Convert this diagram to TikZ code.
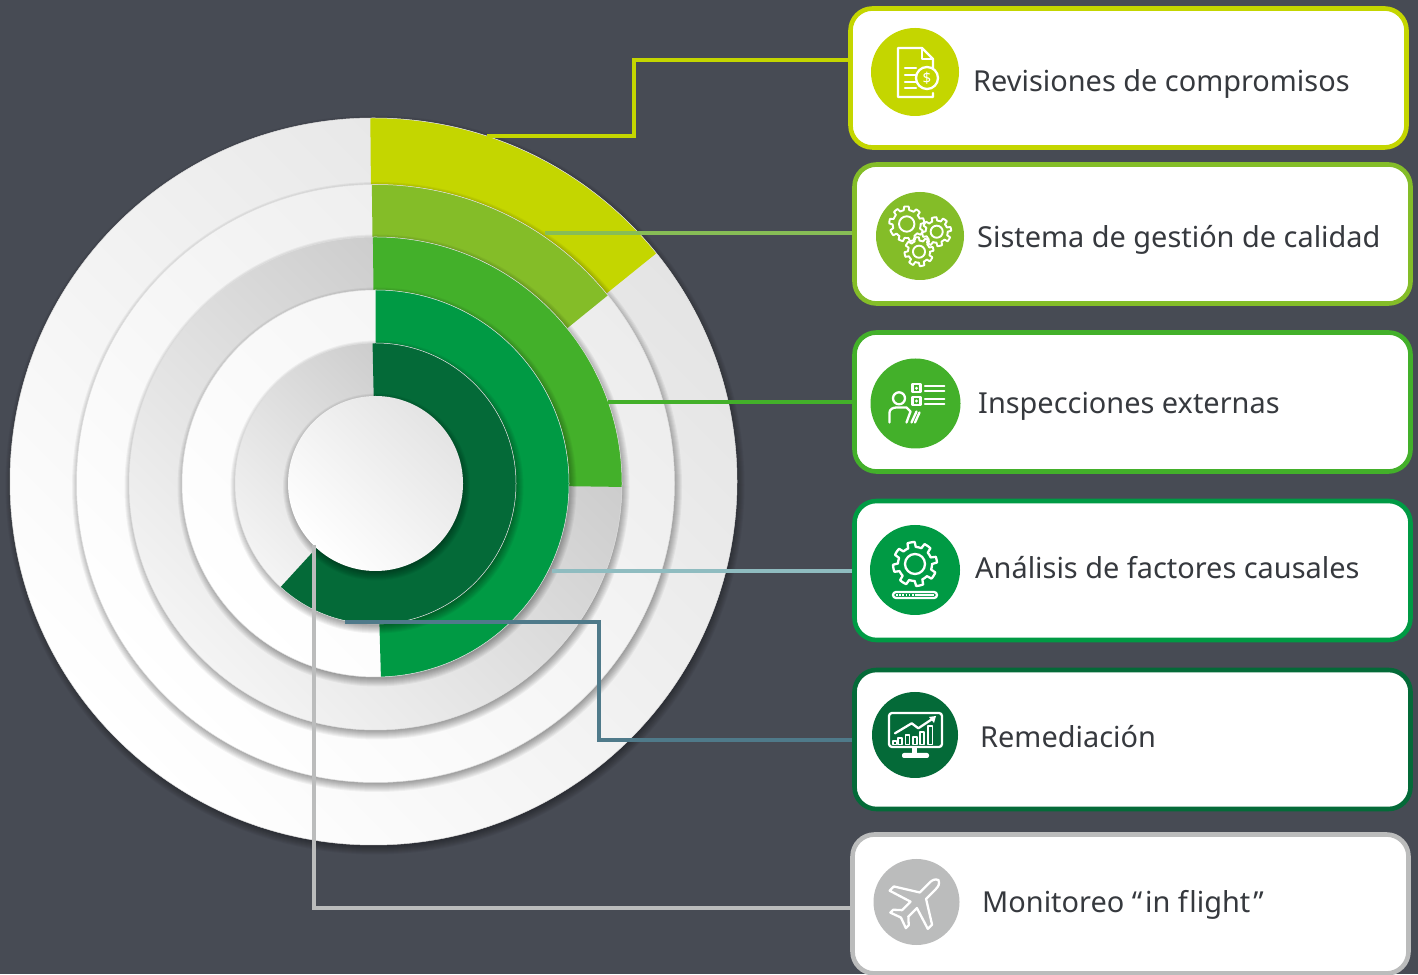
\documentclass[tikz,border=0pt]{standalone}
\usepackage{fontspec}
\setmainfont{Noto Sans}
\usepackage{tikz}
\usetikzlibrary{positioning}

\definecolor{slatebg}{HTML}{474B54}
\definecolor{bodytext}{HTML}{36393E}
\definecolor{lime}{HTML}{C4D600}
\definecolor{leaf}{HTML}{84BD28}
\definecolor{grass}{HTML}{43B02A}
\definecolor{emerald}{HTML}{009A44}
\definecolor{forest}{HTML}{046A38}
\definecolor{stone}{HTML}{BBBCBC}
\definecolor{steel}{HTML}{4F7A8A}
\definecolor{mist}{HTML}{8FBCC0}
\definecolor{ringa}{HTML}{FFFFFF}
\definecolor{ringb}{HTML}{E4E4E4}
\definecolor{ringc}{HTML}{ECECEC}
\definecolor{ringd}{HTML}{F4F4F4}
\definecolor{ringe}{HTML}{C6C6C6}

\tikzset{
    panel/.style={draw=#1, line width=4.6pt, fill=white, rounded corners=22pt, minimum width=556pt, minimum height=139pt},
    badge/.style={circle, fill=#1, inner sep=0pt},
    caption/.style={anchor=base west, inner sep=0pt, text=bodytext, font=\fontsize{28.9pt}{32pt}\selectfont},
    leader/.style={draw=#1, line width=3.2pt},
    glyph/.style={draw=white, line width=2.3pt, line join=round, line cap=round},
}

\begin{document}
\begin{tikzpicture}[x=1pt, y=1pt]
    \useasboundingbox (0,0) rectangle (1418,974);
    \fill[slatebg] (0,0) rectangle (1418,974);

    % Draw stacked discs, each with its coloured sector
    \foreach \r/\cx/\cy/\lc/\dc/\wc/\sa/\ea in {363.5/373.5/492.5/ringa/ringb/lime/90.5/38.9, 299/375.5/490.5/ringa/ringc/leaf/90.7/39, 246.5/375.5/490.5/ringd/ringe/grass/90.6/-0.8, 193.5/375.5/490.5/ringa/ringd/emerald/90/-88.4, 140.5/375.5/490.5/ringd/ringe/forest/91.2/-132.5} {
      \foreach \s in {1,...,9} {
        \fill[black, opacity=0.045] (\cx+1.5,\cy-3.5) circle ({\r+\s-3});
      }
      \shade[left color=\dc, right color=\lc, shading angle=-45] (\cx,\cy) circle (\r);
      \fill[\wc] (\cx,\cy) -- ++(\sa:\r) arc (\sa:\ea:\r) -- cycle;
      \draw[white!75!gray, line width=0.5pt] (\cx,\cy) circle (\r);
    }

    % Draw centre disc
    \foreach \s in {1,...,9} {
      \fill[black, opacity=0.045] (376.5,487) circle ({87.5+\s-3});
    }
    \shade[left color=ringb, right color=white, shading angle=-45] (375.5,490.5) circle (87.5);

    % Free ends of the leaders on the rings
    \coordinate (ringA) at (487,838);
    \coordinate (ringB) at (545,741);
    \coordinate (ringC) at (608,572);
    \coordinate (ringD) at (552,403);
    \coordinate (ringE) at (345,352);
    \coordinate (ringF) at (314,429);

    % Draw panels with their badges and captions
    \foreach \id/\x/\y/\c/\by/\bx/\br/\tx/\ty/\txt in {A/1128.5/896/lime/902/915/44/973/882.5/Revisiones de compromisos, B/1132.5/740/leaf/738/920/44/977/726.5/Sistema de gestión de calidad, C/1132.5/572/grass/570.5/915.5/45/978/560/Inspecciones externas, D/1132.5/403.5/emerald/404/915/45/975/395/Análisis de factores causales, E/1132.5/234.5/forest/239/915/43/980/226/Remediación, F/1130.5/70/stone/72/916.5/43/982/61/Monitoreo “\kern3pt in f\kern1.5pt light\kern3pt ”} {
      \node[panel=\c] (box\id) at (\x,\y) {};
      \node[badge=\c, minimum size=2*\br pt] (icon\id) at (\bx,\by) {};
      \node[caption] (text\id) at (\tx,\ty) {\txt};
    }

    % Draw leaders
    \draw[leader=lime] (ringA) -| (634,914) -- (boxA.west |- 634,914);
    \draw[leader=leaf!70!mist] (ringB) -- (boxB.west |- ringB);
    \draw[leader=grass] (ringC) -- (boxC.west);
    \draw[leader=mist] (ringD) -- (boxD.west |- ringD);
    \draw[leader=steel] (ringE) -| (599,234) -- (boxE.west |- 599,234);
    \draw[leader=stone] (ringF) |- (boxF.west |- 314,66);

    % Draw icon on badge A
    \begin{scope}[shift={(iconA)}]
      \draw[glyph] (18,-10) -- (18,13) -- (7,24) -- (-17,24) -- (-17,-25) -- (18,-25) -- (18,-21);
      \draw[glyph] (7,24) -- (7,13) -- (18,13);
      \foreach \ly in {4,-3,-10,-16} {
        \draw[glyph] (-10,\ly) -- (1,\ly);
      }
      \draw[glyph, fill=lime] (12,-6) circle (11);
      \node[text=white, inner sep=0pt, font=\bfseries\fontsize{15pt}{15pt}\selectfont] (coin) at (12,-6) {\$};
    \end{scope}

    % Draw icon on badge B
    \begin{scope}[shift={(iconB)}]
      \foreach \gx/\gy/\gr/\gt in {-13.3/12/14/9, 16.7/4.3/11/8, -1/-15.7/11/8} {
        \draw[glyph, line width=1.9pt] plot[samples=96, domain=0:360] ({\gx+(\gr+3.5*(sin(\gt*\x)>0))*cos(\x)},{\gy+(\gr+3.5*(sin(\gt*\x)>0))*sin(\x)}) -- cycle;
        \draw[glyph, line width=1.9pt] (\gx,\gy) circle (\gr*0.55);
      }
    \end{scope}

    % Draw icon on badge C
    \begin{scope}[shift={(iconC)}]
      \draw[glyph] (-16.5,5.2) circle (6);
      \draw[glyph] (-26,-19) -- (-26,-9) to[out=90, in=180] (-19,-4) -- (-9,-4) -- (-5,-8) -- (-9,-19);
      \draw[glyph] (-4,-19) -- (1,-8);
      \draw[glyph] (-0.5,-19) -- (4,-9);
      \foreach \ly in {15.2,2.5} {
        \draw[glyph] (-3,\ly-4) rectangle (5,\ly+4);
        \fill[white] (1,\ly) circle (1.6);
      }
      \foreach \ly in {17.5,12.8,4.2,-0.5} {
        \draw[glyph] (9.5,\ly) -- (28.8,\ly);
      }
    \end{scope}

    % Draw icon on badge D
    \begin{scope}[shift={(iconD)}]
      \draw[glyph] plot[samples=96, domain=0:360] ({(17+5*(sin(8*\x)>0))*cos(\x)},{6+(17+5*(sin(8*\x)>0))*sin(\x)}) -- cycle;
      \draw[glyph] (0,6) circle (10);
      \draw[glyph, rounded corners=3pt] (-22,-22) rectangle (22,-28);
      \draw[white, line width=1.6pt, dash pattern=on 1.6pt off 1.6pt] (-19,-25) -- (0,-25);
      \draw[white, line width=1.6pt] (0,-25) -- (19,-25);
    \end{scope}

    % Draw icon on badge E
    \begin{scope}[shift={(iconE)}]
      \draw[glyph, rounded corners=3pt] (-26,22) rectangle (27,-12);
      \foreach \bl/\bw/\bt in {-22/3.5/-6, -17/4/-3, -9.5/4/0, -2/4/-2, 5/4/3, 13/4.5/9} {
        \draw[glyph, line width=1.7pt] (\bl,-9.5) rectangle (\bl+\bw,\bt);
      }
      \draw[glyph] (-20,1.7) -- (-3.3,11.7) -- (3.3,6.7) -- (18.3,16.7);
      \fill[white] (21,19) -- (14,18) -- (19,12) -- cycle;
      \fill[white] (-3,-12) rectangle (2,-18);
      \fill[white, rounded corners=2pt] (-13,-18) rectangle (14,-23);
    \end{scope}

    % Draw icon on badge F
    \begin{scope}[shift={(iconF)}, rotate=-45]
      \draw[glyph] (0,31) to[out=-20, in=90] (4.5,23) -- (4.5,9) -- (27,-5) -- (27,-11) -- (4.5,-4) -- (4.5,-16) -- (11,-22) -- (11,-26) -- (0,-22) -- (-11,-26) -- (-11,-22) -- (-4.5,-16) -- (-4.5,-4) -- (-27,-11) -- (-27,-5) -- (-4.5,9) -- (-4.5,23) to[out=90, in=200] cycle;
    \end{scope}
  \end{tikzpicture}
\end{document}
